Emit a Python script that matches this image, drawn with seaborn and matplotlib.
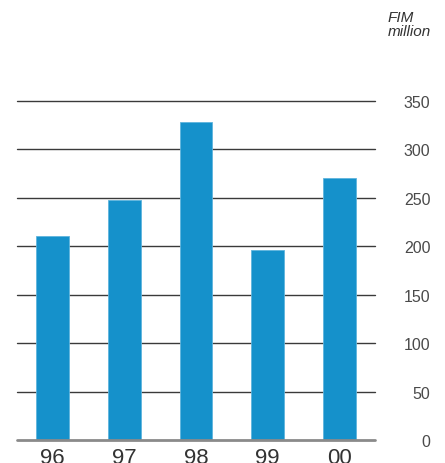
import matplotlib
matplotlib.use("Agg")
import matplotlib.pyplot as plt
import seaborn as sns
import pandas as pd

years = ["96", "97", "98", "99", "00"]
values = [211, 248, 328, 196, 271]
yticks = [0, 50, 100, 150, 200, 250, 300, 350]

sns.set_theme(style="white")
plt.rcParams['font.family'] = ['Liberation Sans', 'DejaVu Sans']

fig = plt.figure(figsize=(4.45, 4.64), dpi=100)
ax = fig.add_axes([17/445, 23/464, 358/445, 339/464])

df = pd.DataFrame({"year": years, "value": values})
sns.barplot(data=df, x="year", y="value", color="#1591cb", saturation=1,
            width=0.46, ax=ax, zorder=3, edgecolor="#5fb4dd", linewidth=0.6)

ax.set_xlim(-0.5, 4.5)
ax.set_ylim(0, 350)
for y in yticks[1:]:
    ax.axhline(y, color="#3a3a3a", lw=1.0, zorder=1, clip_on=False)
ax.axhline(0, color="#8a8a8a", lw=2, zorder=4, clip_on=False)

for s in ax.spines.values():
    s.set_visible(False)

ax.yaxis.tick_right()
ax.set_yticks(yticks)
ax.set_yticklabels([str(v) for v in yticks])
ax.tick_params(axis="y", length=0, pad=40, labelsize=11.5, labelcolor="#4a4a4a")
for lab in ax.get_yticklabels():
    lab.set_horizontalalignment("right")
ax.tick_params(axis="x", length=0, pad=5, labelsize=16, labelcolor="#333333")
ax.set_xlabel("")
ax.set_ylabel("")

fig.text(388/445, 1 - 11/464, "FIM\nmillion", ha="left", va="top",
         fontsize=11, style="italic", color="#333333", linespacing=1.0)

fig.savefig("out.png", dpi=100)
